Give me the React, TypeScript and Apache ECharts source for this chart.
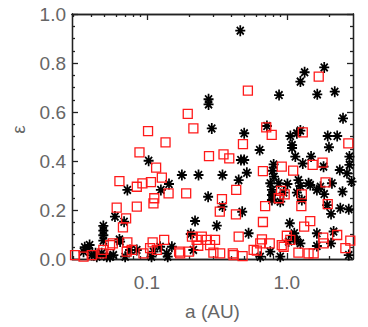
import { useEffect, useRef } from 'react';
import * as echarts from 'echarts';

// Axis ranges and tick values
const X_MIN = 0.0292;
const X_MAX = 2.97;
const xMajorTicks = [0.1, 1];
const xMinorTicks = [0.03, 0.04, 0.05, 0.06, 0.07, 0.08, 0.09, 0.2, 0.3, 0.4, 0.5, 0.6, 0.7, 0.8, 0.9, 2];
const yMajorTicks = [0, 0.2, 0.4, 0.6, 0.8, 1.0];
const yMinorTicks = [0.05, 0.1, 0.15, 0.25, 0.3, 0.35, 0.45, 0.5, 0.55, 0.65, 0.7, 0.75, 0.85, 0.9, 0.95];

// Black asterisks: semi-major axis a (AU) and eccentricity e
const starA = [0.465, 1.85, 1.34, 1.25, 1.65, 2.2, 0.88, 0.276, 0.276, 2.52, 0.291, 0.721, 0.496, 1.06, 1.18, 1.25, 1.96, 2.29, 1.09, 1.09, 2.0, 0.64, 0.103, 0.47, 0.496, 1.15, 1.49, 1.3, 1.83, 0.805, 2.8, 2.8, 2.39, 0.518, 0.453, 0.178, 0.234, 0.347, 0.79, 0.81, 0.762, 0.783, 0.875, 1.01, 1.21, 1.25, 1.43, 1.64, 1.74, 1.85, 2.1, 2.69, 2.9, 2.5, 0.0726, 0.126, 0.144, 0.274, 0.783, 0.898, 1.28, 1.94, 2.41, 2.77, 2.07, 0.48, 0.347, 0.0592, 0.0688, 0.221, 0.316, 0.0489, 0.0489, 0.0489, 0.0489, 1.05, 0.533, 0.0637, 0.206, 1.13, 1.18, 1.25, 1.64, 2.16, 2.07, 1.64, 0.038, 0.0404, 0.0476, 0.0577, 0.0644, 0.0848, 0.1115, 0.1244, 0.1388, 0.151, 0.215, 0.646, 0.762, 0.898, 1.03, 2.77, 0.0353, 0.0439, 0.0517, 0.07, 0.108, 0.141, 0.949, 1.18, 1.47, 0.783, 1.12, 0.036, 0.039, 0.043, 0.0546, 0.0759];
const starE = [0.932, 0.782, 0.762, 0.724, 0.672, 0.683, 0.669, 0.652, 0.631, 0.574, 0.533, 0.543, 0.513, 0.502, 0.513, 0.524, 0.502, 0.502, 0.465, 0.453, 0.456, 0.445, 0.401, 0.404, 0.404, 0.418, 0.418, 0.39, 0.377, 0.386, 0.418, 0.384, 0.363, 0.352, 0.322, 0.343, 0.343, 0.343, 0.36, 0.336, 0.309, 0.282, 0.309, 0.306, 0.322, 0.298, 0.309, 0.282, 0.295, 0.265, 0.309, 0.35, 0.316, 0.275, 0.282, 0.282, 0.306, 0.254, 0.241, 0.234, 0.241, 0.22, 0.207, 0.203, 0.184, 0.193, 0.214, 0.173, 0.152, 0.155, 0.136, 0.135, 0.116, 0.097, 0.075, 0.146, 0.105, 0.08, 0.102, 0.105, 0.078, 0.064, 0.105, 0.112, 0.064, 0.053, 0.044, 0.016, 0.023, 0.016, 0.071, 0.037, 0.03, 0.05, 0.023, 0.05, 0.037, 0.0095, 0.03, 0.0095, 0.071, 0.016, 0.03, 0.0095, 0.0095, 0.0095, 0.0095, 0.0095, 0.271, 0.271, 0.302, 0.261, 0.091, 0.048, 0.057, 0.023, 0.0095, 0.037];

// Red open squares
const squareA = [1.69, 0.527, 0.196, 0.215, 0.102, 0.136, 0.0886, 0.713, 0.78, 1.3, 0.486, 2.75, 0.278, 0.353, 0.388, 0.1165, 0.128, 0.0637, 0.0848, 0.093, 0.107, 0.113, 0.1115, 0.143, 0.191, 0.0848, 0.0609, 0.0711, 0.0675, 0.435, 0.344, 0.332, 0.433, 0.675, 0.92, 1.11, 1.53, 1.8, 1.89, 0.91, 0.965, 0.875, 1.28, 0.7, 1.27, 1.96, 0.675, 1.47, 1.33, 0.453, 1.0, 1.06, 1.82, 2.29, 2.84, 0.664, 0.755, 0.949, 0.579, 0.646, 0.21, 0.227, 0.247, 0.268, 0.307, 0.233, 0.283, 0.2, 0.299, 0.411, 0.334, 0.133, 0.11, 0.0726, 0.0571, 0.0489, 0.0546, 0.0718, 0.078, 0.0946, 0.1055, 0.1178, 0.17, 0.1729, 0.0307, 0.0353, 0.0404, 0.0476, 1.21, 1.43, 1.555, 1.83, 2.62, 0.92, 0.483, 0.611, 0.416];
const squareE = [0.744, 0.687, 0.592, 0.533, 0.522, 0.476, 0.435, 0.537, 0.507, 0.517, 0.469, 0.472, 0.42, 0.427, 0.411, 0.373, 0.332, 0.318, 0.295, 0.309, 0.314, 0.248, 0.227, 0.268, 0.268, 0.214, 0.21, 0.166, 0.129, 0.282, 0.244, 0.193, 0.182, 0.359, 0.377, 0.361, 0.384, 0.393, 0.313, 0.278, 0.264, 0.248, 0.264, 0.216, 0.216, 0.224, 0.151, 0.155, 0.132, 0.091, 0.095, 0.078, 0.087, 0.098, 0.075, 0.08, 0.064, 0.05, 0.037, 0.064, 0.091, 0.078, 0.091, 0.078, 0.078, 0.054, 0.057, 0.03, 0.026, 0.023, 0.023, 0.078, 0.068, 0.068, 0.064, 0.037, 0.057, 0.03, 0.037, 0.023, 0.044, 0.037, 0.03, 0.023, 0.016, 0.0095, 0.016, 0.023, 0.026, 0.023, 0.023, 0.064, 0.044, 0.057, 0.012, 0.034, 0.016];

const ASTERISK = 'path://M5,0 L5,10 M0,5 L10,5 M1.5,1.5 L8.5,8.5 M8.5,1.5 L1.5,8.5';
const FONT = 'Liberation Sans, Arial, sans-serif';
const TEXT_COLOR = '#666';
const LINE = { color: '#222', width: 1.3 };

function zip(a: number[], e: number[]) {
  return a.map((v, i) => [v, e[i]]);
}

function makeX(position: string, ticks: number[], len: number, main: boolean) {
  return {
    type: 'log',
    logBase: 10,
    min: X_MIN,
    max: X_MAX,
    position,
    splitLine: { show: false },
    axisLine: { show: true, onZero: false, lineStyle: LINE },
    axisTick: { show: true, inside: true, length: len, customValues: ticks, lineStyle: LINE },
    axisLabel: main
      ? {
          show: true,
          customValues: xMajorTicks,
          formatter: (v: number) => Number(v).toFixed(1),
          margin: 14,
          fontSize: 19,
          color: TEXT_COLOR,
          fontFamily: FONT,
        }
      : { show: false },
    name: main ? 'a (AU)' : '',
    nameLocation: 'middle',
    nameGap: 43,
    nameTextStyle: { fontSize: 19, color: TEXT_COLOR, fontFamily: FONT },
  };
}

function makeY(position: string, ticks: number[], len: number, main: boolean) {
  return {
    type: 'value',
    min: 0,
    max: 1,
    position,
    splitLine: { show: false },
    axisLine: { show: true, onZero: false, lineStyle: LINE },
    axisTick: { show: true, inside: true, length: len, customValues: ticks, lineStyle: LINE },
    axisLabel: main
      ? {
          show: true,
          customValues: yMajorTicks,
          formatter: (v: number) => Number(v).toFixed(1),
          margin: 6,
          fontSize: 19,
          color: TEXT_COLOR,
          fontFamily: FONT,
        }
      : { show: false },
    name: main ? 'ε' : '',
    nameLocation: 'middle',
    nameGap: 44,
    nameTextStyle: { fontSize: 19, color: TEXT_COLOR, fontFamily: FONT, padding: [0, 0, 0, 14] },
  };
}

export default function App() {
  const ref = useRef<HTMLDivElement>(null);
  useEffect(() => {
    document.body.style.margin = '0';
    if (!ref.current) return;
    const chart = echarts.init(ref.current, null, { renderer: 'svg' });
    chart.setOption({
      animation: false,
      backgroundColor: '#fff',
      grid: { left: 72, top: 14, right: 15, bottom: 68, containLabel: false, outerBoundsMode: 'none' },
      xAxis: [
        makeX('bottom', xMajorTicks, 6, true),
        makeX('bottom', xMinorTicks, 3, false),
        makeX('top', xMajorTicks, 6, false),
        makeX('top', xMinorTicks, 3, false),
      ],
      yAxis: [
        makeY('left', yMajorTicks, 6, true),
        makeY('left', yMinorTicks, 3, false),
        makeY('right', yMajorTicks, 6, false),
        makeY('right', yMinorTicks, 3, false),
      ],
      series: [
        {
          type: 'scatter',
          xAxisIndex: 0,
          yAxisIndex: 0,
          data: zip(starA, starE),
          symbol: ASTERISK,
          symbolSize: [10, 11],
          itemStyle: { color: '#000', borderColor: '#000', borderWidth: 1.8, opacity: 1 },
          emphasis: { disabled: true },
          silent: true,
          z: 2,
        },
        {
          type: 'scatter',
          xAxisIndex: 0,
          yAxisIndex: 0,
          data: zip(squareA, squareE),
          symbol: 'rect',
          symbolSize: 9,
          itemStyle: { color: 'rgba(0,0,0,0)', borderColor: '#ff1a1a', borderWidth: 1.3, opacity: 1 },
          emphasis: { disabled: true },
          silent: true,
          z: 3,
        },
      ],
    });
    return () => chart.dispose();
  }, []);
  return <div ref={ref} style={{ width: 368, height: 327 }} />;
}
